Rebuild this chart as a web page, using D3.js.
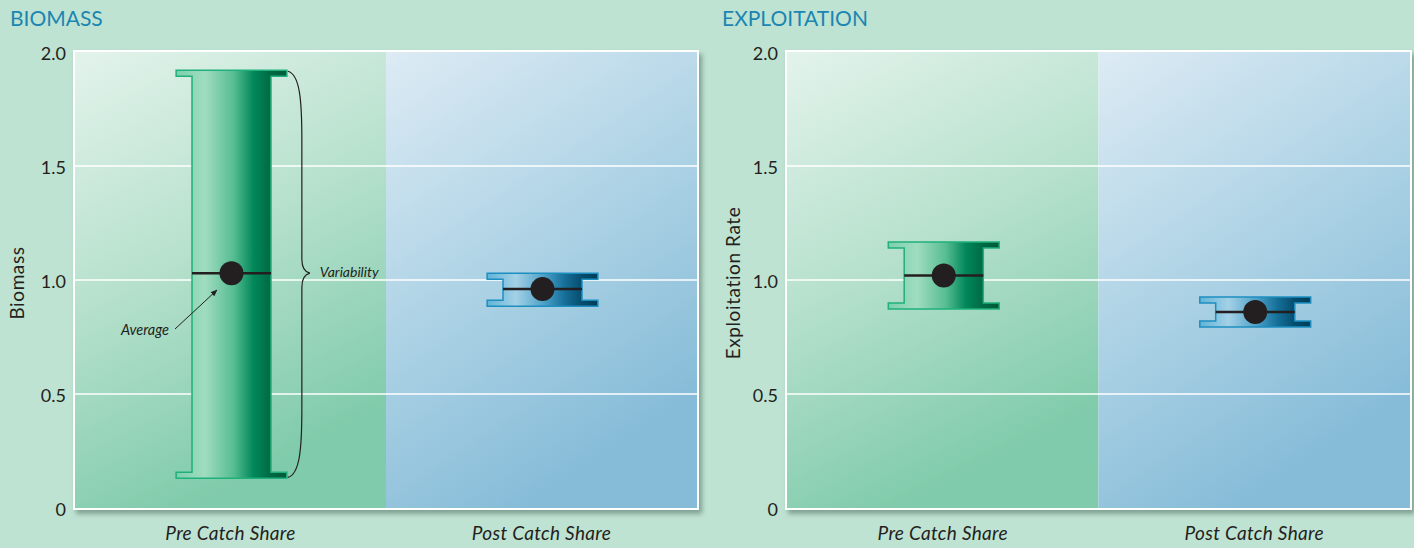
<!DOCTYPE html>
<html>
<head>
<meta charset="utf-8">
<script src="https://cdn.jsdelivr.net/npm/d3@7"></script>
<style>
  body { margin:0; background:#bfe3d2; }
  svg { display:block; font-family: Lato, "Open Sans", sans-serif; }
</style>
</head>
<body>
<svg id="chart" width="1414" height="548"></svg>
<script>
// data
var categories = ["Pre Catch Share", "Post Catch Share"];
var yTicks = [0, 0.5, 1.0, 1.5, 2.0];
var yTickLabels = ["0", "0.5", "1.0", "1.5", "2.0"];

var biomassMean = [1.03, 0.96];
var biomassMin  = [0.13, 0.885];
var biomassMax  = [1.92, 1.03];

var exploitMean = [1.02, 0.86];
var exploitMin  = [0.873, 0.794];
var exploitMax  = [1.167, 0.925];

var svg = d3.select("#chart");
var defs = svg.append("defs");

var addGrad = function(id, stops, x2, y2) {
    var g = defs.append("linearGradient").attr("id", id)
        .attr("x1", 0).attr("y1", 0).attr("x2", x2).attr("y2", y2);
    stops.forEach(function(s) {
        g.append("stop").attr("offset", s[0]).attr("stop-color", s[1]);
    });
}
addGrad("bgGreen", [[0, "#e3f3eb"], [0.5, "#b7e1cd"], [1, "#80cbab"]], 0.35, 1);
addGrad("bgBlue", [[0, "#ddebf4"], [0.5, "#b0d4e6"], [1, "#86bcd8"]], 0.45, 1);
addGrad("barGreen", [[0, "#7ccfac"], [0.26, "#a0dcc0"], [0.52, "#56bd92"], [0.7, "#00875a"], [0.85, "#006a45"], [1, "#005836"]], 1, 0);
addGrad("barBlue", [[0, "#62b3d8"], [0.26, "#a3d1e6"], [0.52, "#4a9fc7"], [0.7, "#156f98"], [0.85, "#064e6f"], [1, "#003c57"]], 1, 0);

var sh = defs.append("filter").attr("id", "shadow")
    .attr("x", "-5%").attr("y", "-5%").attr("width", "110%").attr("height", "115%");
sh.append("feDropShadow").attr("dx", 3).attr("dy", 4).attr("stdDeviation", 2.5)
    .attr("flood-color", "#4a6a5c").attr("flood-opacity", 0.55);

var mark = defs.append("marker").attr("id", "arrow")
    .attr("viewBox", "0 0 10 10").attr("refX", 9).attr("refY", 5)
    .attr("markerWidth", 7).attr("markerHeight", 7).attr("orient", "auto-start-reverse");
mark.append("path").attr("d", "M0,1 L10,5 L0,9 Z").attr("fill", "#231f20");

var yScale = d3.scaleLinear().domain([0, 2]).range([508, 52]);

var drawPanel = function(opts) {
    var xScale = d3.scaleBand().domain(categories).range([opts.x0, opts.x1]).padding(0);
    var g = svg.append("g");

    // title
    g.append("text")
        .attr("x", opts.titleX).attr("y", 26)
        .attr("fill", "#1b86b2").style("font-size", "21px")
        .text(opts.title);

    // frame with shadow
    g.append("rect")
        .attr("x", opts.x0 - 2).attr("y", yScale(2) - 2)
        .attr("width", opts.x1 - opts.x0 + 4).attr("height", yScale(0) - yScale(2) + 4)
        .attr("fill", "#ffffff").attr("filter", "url(#shadow)");

    // background bands
    g.selectAll("rect.band")
        .data(categories)
        .enter()
        .append("rect")
            .attr("class", "band")
            .attr("x", d => xScale(d))
            .attr("y", yScale(2))
            .attr("width", xScale.bandwidth())
            .attr("height", yScale(0) - yScale(2))
            .attr("fill", (d, i) => i == 0 ? "url(#bgGreen)" : "url(#bgBlue)");

    // gridlines
    g.selectAll("line.grid")
        .data(yTicks.filter(t => t > 0 && t < 2))
        .enter()
        .append("line")
            .attr("x1", opts.x0).attr("x2", opts.x1)
            .attr("y1", d => yScale(d)).attr("y2", d => yScale(d))
            .attr("stroke", "#ffffff").attr("stroke-width", 1.6);

    // y tick labels
    g.selectAll("text.tick")
        .data(yTicks)
        .enter()
        .append("text")
            .attr("x", opts.x0 - 9)
            .attr("y", d => yScale(d) + 2)
            .attr("dy", "0.36em")
            .attr("text-anchor", "end")
            .attr("fill", "#231f20")
            .style("font-size", "18px")
            .text((d, i) => yTickLabels[i]);

    // y axis title
    g.append("text")
        .attr("transform", "translate(" + opts.yTitleX + "," + ((yScale(0) + yScale(2)) / 2 + 3) + ") rotate(-90)")
        .attr("text-anchor", "middle")
        .attr("fill", "#231f20")
        .style("font-size", "19px")
        .style("letter-spacing", "0.6px")
        .text(opts.yTitle);

    // x labels
    g.selectAll("text.cat")
        .data(categories)
        .enter()
        .append("text")
            .attr("x", d => xScale(d) + xScale.bandwidth() / 2)
            .attr("y", 540)
            .attr("text-anchor", "middle")
            .attr("fill", "#231f20")
            .style("font-size", "19px")
            .style("font-style", "italic")
            .style("letter-spacing", "0.3px")
            .text(d => d);

    // spools
    var bw = xScale.bandwidth();
    var bodyW = bw * 0.254, capW = bw * 0.356, capH = 6;
    var spool = function(d, i) {
        var cx = xScale(categories[i]) + bw / 2 + 1;
        var yt = yScale(opts.max[i]), yb = yScale(opts.min[i]);
        var b0 = cx - bodyW / 2, b1 = cx + bodyW / 2;
        var c0 = cx - capW / 2, c1 = cx + capW / 2;
        var p = d3.path();
        p.moveTo(c0, yt); p.lineTo(c1, yt); p.lineTo(c1, yt + capH); p.lineTo(b1, yt + capH);
        p.lineTo(b1, yb - capH); p.lineTo(c1, yb - capH); p.lineTo(c1, yb); p.lineTo(c0, yb);
        p.lineTo(c0, yb - capH); p.lineTo(b0, yb - capH); p.lineTo(b0, yt + capH); p.lineTo(c0, yt + capH);
        p.closePath();
        return p.toString();
    }
    g.selectAll("path.spool")
        .data(categories)
        .enter()
        .append("path")
            .attr("d", spool)
            .attr("fill", (d, i) => i == 0 ? "url(#barGreen)" : "url(#barBlue)")
            .attr("stroke", (d, i) => i == 0 ? "#1fb07b" : "#1d8ec0")
            .attr("stroke-width", 1.5)
            .attr("stroke-linejoin", "miter");

    // mean line + dot
    g.selectAll("line.mean")
        .data(categories)
        .enter()
        .append("line")
            .attr("x1", d => xScale(d) + bw / 2 + 1 - bodyW / 2)
            .attr("x2", d => xScale(d) + bw / 2 + 1 + bodyW / 2)
            .attr("y1", (d, i) => yScale(opts.mean[i]))
            .attr("y2", (d, i) => yScale(opts.mean[i]))
            .attr("stroke", "#231f20").attr("stroke-width", 2.5);
    g.selectAll("circle.mean")
        .data(categories)
        .enter()
        .append("circle")
            .attr("cx", d => xScale(d) + bw / 2 + 1)
            .attr("cy", (d, i) => yScale(opts.mean[i]))
            .attr("r", 12)
            .attr("fill", "#231f20");

    return {xScale: xScale, g: g, bodyW: bodyW, capW: capW};
}

var left = drawPanel({
    x0: 75, x1: 697, title: "BIOMASS", titleX: 10, yTitle: "Biomass", yTitleX: 24,
    mean: biomassMean, min: biomassMin, max: biomassMax
});
drawPanel({
    x0: 787, x1: 1410, title: "EXPLOITATION", titleX: 722, yTitle: "Exploitation Rate", yTitleX: 740,
    mean: exploitMean, min: exploitMin, max: exploitMax
});

// annotations on the biomass pre bar
var ag = left.g;
var bx = left.xScale(categories[0]) + left.xScale.bandwidth() / 2 + 1 + left.capW / 2;
var yt = yScale(biomassMax[0]), yb = yScale(biomassMin[0]), ym = yScale(biomassMean[0]);
var vx = bx + 15, tip = bx + 23;
var brace = d3.path();
brace.moveTo(bx + 1, yt + 1);
brace.bezierCurveTo(vx - 2, yt + 4, vx, yt + 30, vx, yt + 70);
brace.lineTo(vx, ym - 14);
brace.bezierCurveTo(vx, ym - 4, tip - 4, ym - 1, tip, ym);
brace.bezierCurveTo(tip - 4, ym + 1, vx, ym + 4, vx, ym + 14);
brace.lineTo(vx, yb - 70);
brace.bezierCurveTo(vx, yb - 30, vx - 2, yb - 4, bx + 1, yb - 1);
ag.append("path").attr("d", brace.toString())
    .attr("fill", "none").attr("stroke", "#231f20").attr("stroke-width", 1.2);

ag.append("text")
    .attr("x", tip + 10).attr("y", ym + 4)
    .attr("fill", "#231f20").style("font-size", "14px").style("font-style", "italic")
    .text("Variability");

ag.append("text")
    .attr("x", 169).attr("y", 335)
    .attr("text-anchor", "end")
    .attr("fill", "#231f20").style("font-size", "14.5px").style("font-style", "italic")
    .text("Average");
ag.append("line")
    .attr("x1", 175).attr("y1", 329)
    .attr("x2", 217).attr("y2", 290)
    .attr("stroke", "#231f20").attr("stroke-width", 1)
    .attr("marker-end", "url(#arrow)");
</script>
</body>
</html>
